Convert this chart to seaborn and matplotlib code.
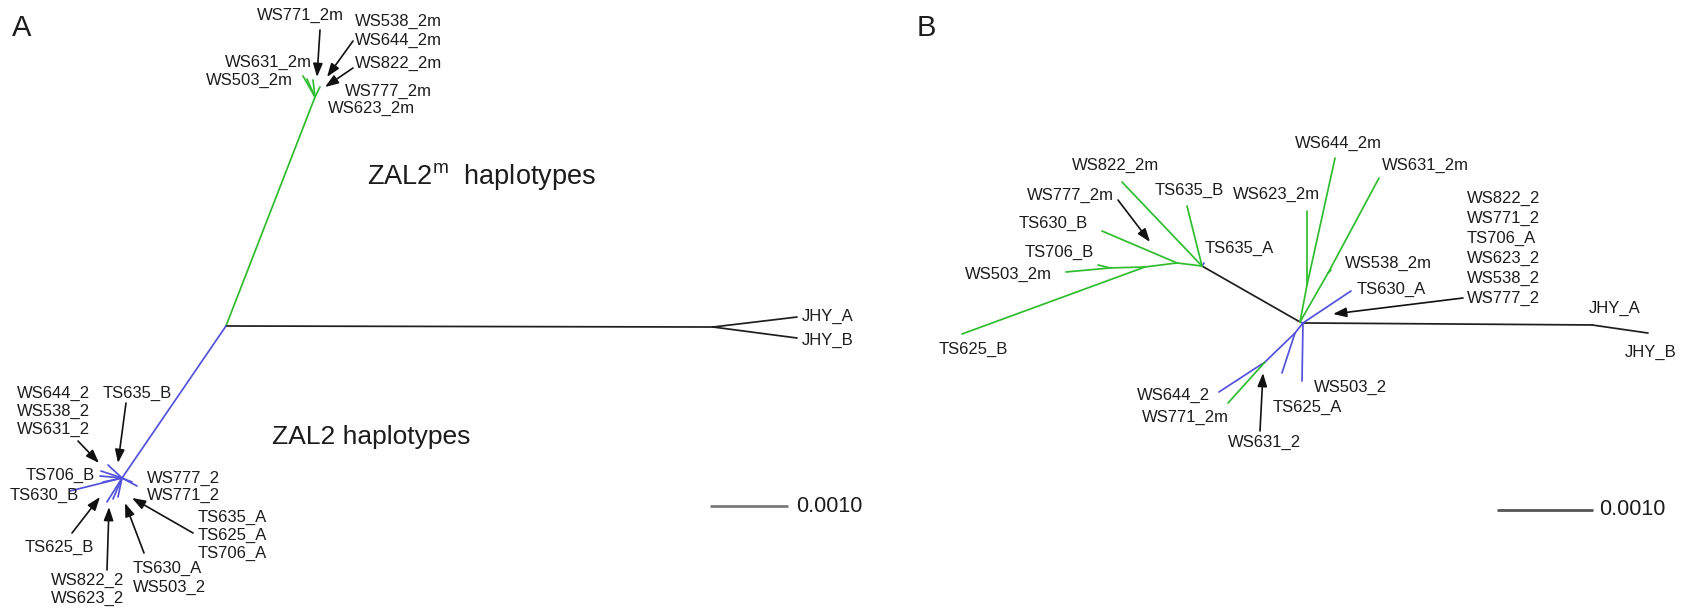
import matplotlib
matplotlib.use("Agg")
import matplotlib.pyplot as plt
from matplotlib.transforms import Affine2D
import pandas as pd
import seaborn as sns

# ---------------------------------------------------------------------------
# Tree data. Node positions are in units of 1e-4 substitutions/site,
# relative to the central node of each unrooted tree (y points up).
# ---------------------------------------------------------------------------
UNIT = 1e-4
SCALE_BAR = 0.0010

A_NODES = {
    "root": (0.00, 0.00),
    "m_hub": (11.41, 29.36),
    "m1": (9.87, 32.05), "m2": (10.38, 31.67), "m3": (11.15, 31.54), "m4": (12.05, 30.64),
    "jhy": (62.44, -0.13), "JHY_A": (73.21, 1.15), "JHY_B": (73.21, -1.54),
    "z_hub": (-13.33, -19.49),
    "z1": (-15.13, -17.82), "z2": (-16.03, -18.59), "z3": (-16.15, -19.23),
    "z4": (-20.00, -21.15), "z5": (-15.77, -20.00), "z6": (-15.26, -22.56),
    "z7": (-14.49, -22.18), "z8": (-13.85, -21.92), "z9": (-11.41, -20.51),
    "z10": (-12.05, -20.00),
}
A_EDGES = [
    ("root", "m_hub", "ZAL2m"),
    ("m_hub", "m1", "ZAL2m"), ("m_hub", "m2", "ZAL2m"),
    ("m_hub", "m3", "ZAL2m"), ("m_hub", "m4", "ZAL2m"),
    ("root", "jhy", "outgroup"), ("jhy", "JHY_A", "outgroup"), ("jhy", "JHY_B", "outgroup"),
    ("root", "z_hub", "ZAL2"),
] + [("z_hub", f"z{i}", "ZAL2") for i in range(1, 11)]

B_NODES = {
    "center": (0.00, 0.00), "z_hub": (0.31, -0.10),
    "m_base": (-10.21, 5.83), "TS635_A": (-10.00, 6.15),
    "WS822_2m": (-18.54, 14.58), "TS635_B": (-11.77, 12.08),
    "s1": (-12.81, 6.15), "TS630_B": (-20.63, 9.48),
    "s2": (-16.15, 5.73), "TS625_B": (-35.21, -1.25),
    "s3": (-19.79, 5.63), "TS706_B": (-21.04, 5.94), "WS503_2m": (-24.38, 5.21),
    "g1": (0.73, 3.85), "WS623_2m": (0.73, 11.56), "WS644_2m": (3.65, 17.08),
    "g2": (2.92, 5.10), "WS631_2m": (8.23, 15.00), "WS538_2m": (3.23, 5.42),
    "TS630_A": (5.31, 3.23), "WS503_2": (0.21, -6.15),
    "b1": (-0.52, -1.15), "TS625_A": (-1.88, -5.31),
    "b2": (-3.65, -4.17), "WS644_2": (-8.44, -7.29), "WS771_2m": (-7.50, -8.44),
    "jhy": (30.42, -0.31), "JHY_B": (36.25, -1.15),
}
B_EDGES = [
    ("center", "m_base", "outgroup"),
    ("m_base", "TS635_A", "ZAL2"),
    ("m_base", "WS822_2m", "ZAL2m"), ("m_base", "TS635_B", "ZAL2m"),
    ("m_base", "s1", "ZAL2m"), ("s1", "TS630_B", "ZAL2m"), ("s1", "s2", "ZAL2m"),
    ("s2", "TS625_B", "ZAL2m"), ("s2", "s3", "ZAL2m"),
    ("s3", "TS706_B", "ZAL2m"), ("s3", "WS503_2m", "ZAL2m"),
    ("center", "g1", "ZAL2m"), ("g1", "WS623_2m", "ZAL2m"), ("g1", "WS644_2m", "ZAL2m"),
    ("center", "g2", "ZAL2m"), ("g2", "WS631_2m", "ZAL2m"), ("g2", "WS538_2m", "ZAL2m"),
    ("center", "z_hub", "ZAL2"),
    ("z_hub", "TS630_A", "ZAL2"), ("z_hub", "WS503_2", "ZAL2"),
    ("z_hub", "b1", "ZAL2"), ("b1", "TS625_A", "ZAL2"), ("b1", "b2", "ZAL2"),
    ("b2", "WS644_2", "ZAL2"), ("b2", "WS771_2m", "ZAL2m"),
    ("z_hub", "jhy", "outgroup"), ("jhy", "JHY_B", "outgroup"),
]

CLADE_COLORS = {"ZAL2m": "#2fbd2f", "ZAL2": "#5252dc", "outgroup": "#1e1e1e"}

# ---------------------------------------------------------------------------
# Figure setup
# ---------------------------------------------------------------------------
sns.set_theme(style="white")
plt.rcParams["font.family"] = ["Liberation Sans", "DejaVu Sans"]
plt.rcParams["mathtext.fontset"] = "custom"
plt.rcParams["mathtext.rm"] = "Liberation Sans"

FIG_W, FIG_H, DPI = 1685, 611, 100
fig = plt.figure(figsize=(FIG_W / DPI, FIG_H / DPI), dpi=DPI)
fig.patch.set_facecolor("white")

# pixel-space transform (origin top-left) for labels and pointers
PX = Affine2D().scale(1.0 / FIG_W, -1.0 / FIG_H).translate(0, 1) + fig.transFigure

TEXT_COLOR = "#1c1c1c"
LABEL_SIZE = 12


def panel_axes(left_px, right_px, origin_px, px_per_unit):
    ax = fig.add_axes([left_px / FIG_W, 0, (right_px - left_px) / FIG_W, 1])
    ox, oy = origin_px
    ax.set_xlim((left_px - ox) / px_per_unit, (right_px - ox) / px_per_unit)
    ax.set_ylim((oy - FIG_H) / px_per_unit, oy / px_per_unit)
    ax.set_axis_off()
    ax.patch.set_alpha(0)
    return ax


def draw_tree(ax, nodes, edges):
    rows = []
    for k, (a, b, clade) in enumerate(edges):
        for n in (a, b):
            rows.append({"edge": k, "x": nodes[n][0], "y": nodes[n][1], "clade": clade})
    df = pd.DataFrame(rows)
    sns.lineplot(data=df, x="x", y="y", units="edge", estimator=None, hue="clade",
                 palette=CLADE_COLORS, sort=False, legend=False, lw=1.25, ax=ax)
    ax.set_xlabel("")
    ax.set_ylabel("")


def scale_bar(ax, x0, y0, color, label_gap):
    length = SCALE_BAR / UNIT
    ax.plot([x0, x0 + length], [y0, y0], color=color, lw=2.0, solid_capstyle="butt")
    ax.text(x0 + length + label_gap, y0, f"{SCALE_BAR:.4f}", ha="left", va="center",
            fontsize=15.5, color=TEXT_COLOR)


def label(x, y, s, ha="left", size=LABEL_SIZE):
    fig.text(x, y, s, transform=PX, ha=ha, va="center", fontsize=size, color=TEXT_COLOR)


def stack(x, y, names, step, ha="left"):
    for i, s in enumerate(names):
        label(x, y + i * step, s, ha=ha)


def pointer(x0, y0, x1, y1):
    fig.add_artist(matplotlib.patches.FancyArrowPatch(
        (x0, y0), (x1, y1), transform=PX,
        arrowstyle="-|>,head_length=0.5,head_width=0.18", mutation_scale=16,
        color="#111111", lw=1.2, shrinkA=0, shrinkB=0))


# ---------------------------------------------------------------------------
# Panel A
# ---------------------------------------------------------------------------
axA = panel_axes(0, 880, (226, 326), 7.8)
draw_tree(axA, A_NODES, A_EDGES)
scale_bar(axA, 62.05, -23.08, "#7a7a7a", 1.1)

label(12, 28, "A", size=21)
label(300, 15, "WS771_2m", ha="center")
stack(355, 21, ["WS538_2m", "WS644_2m"], 19)
label(355, 63, "WS822_2m")
label(312, 62, "WS631_2m", ha="right")
label(293, 80, "WS503_2m", ha="right")
label(345, 91, "WS777_2m")
label(328, 108, "WS623_2m")
pointer(320, 30, 317, 77)
pointer(353, 41, 327, 77)
pointer(353, 68, 325, 87)

label(367, 177, r"ZAL2$^{\mathregular{m}}$  haplotypes", size=19.5)
label(272, 437, "ZAL2 haplotypes", size=19)

label(802, 316, "JHY_A")
label(802, 340, "JHY_B")

stack(17, 393, ["WS644_2", "WS538_2", "WS631_2"], 18)
label(103, 393, "TS635_B")
pointer(78, 441, 99, 463)
pointer(126, 403, 118, 463)
label(95, 475, "TS706_B", ha="right")
label(79, 495, "TS630_B", ha="right")
stack(147, 478, ["WS777_2", "WS771_2"], 17)
stack(198, 517, ["TS635_A", "TS625_A", "TS706_A"], 18)
pointer(193, 533, 132, 498)
label(25, 547, "TS625_B")
pointer(72, 533, 100, 497)
stack(51, 580, ["WS822_2", "WS623_2"], 18)
pointer(107, 570, 109, 507)
stack(133, 568, ["TS630_A", "WS503_2"], 19)
pointer(144, 553, 125, 503)

# ---------------------------------------------------------------------------
# Panel B
# ---------------------------------------------------------------------------
axB = panel_axes(880, FIG_W, (1300, 322), 9.6)
draw_tree(axB, B_NODES, B_EDGES)
scale_bar(axB, 20.52, -19.58, "#555555", 0.6)

label(917, 28, "B", size=21)
label(1072, 165, "WS822_2m")
label(1027, 195, "WS777_2m")
pointer(1118, 200, 1150, 242)
label(1155, 190, "TS635_B")
label(1019, 223, "TS630_B")
label(1025, 252, "TS706_B")
label(965, 274, "WS503_2m")
label(939, 349, "TS625_B")
label(1205, 248, "TS635_A")
label(1233, 194, "WS623_2m")
label(1295, 143, "WS644_2m")
label(1382, 165, "WS631_2m")
label(1345, 263, "WS538_2m")
label(1357, 289, "TS630_A")
stack(1467, 198, ["WS822_2", "WS771_2", "TS706_A", "WS623_2", "WS538_2", "WS777_2"], 20)
pointer(1463, 298, 1333, 314)
label(1589, 308, "JHY_A")
label(1625, 352, "JHY_B")
label(1137, 395, "WS644_2")
label(1142, 417, "WS771_2m")
label(1228, 442, "WS631_2")
pointer(1260, 431, 1263, 373)
label(1273, 407, "TS625_A")
label(1314, 387, "WS503_2")

fig.savefig("out.png", dpi=DPI, facecolor="white")
